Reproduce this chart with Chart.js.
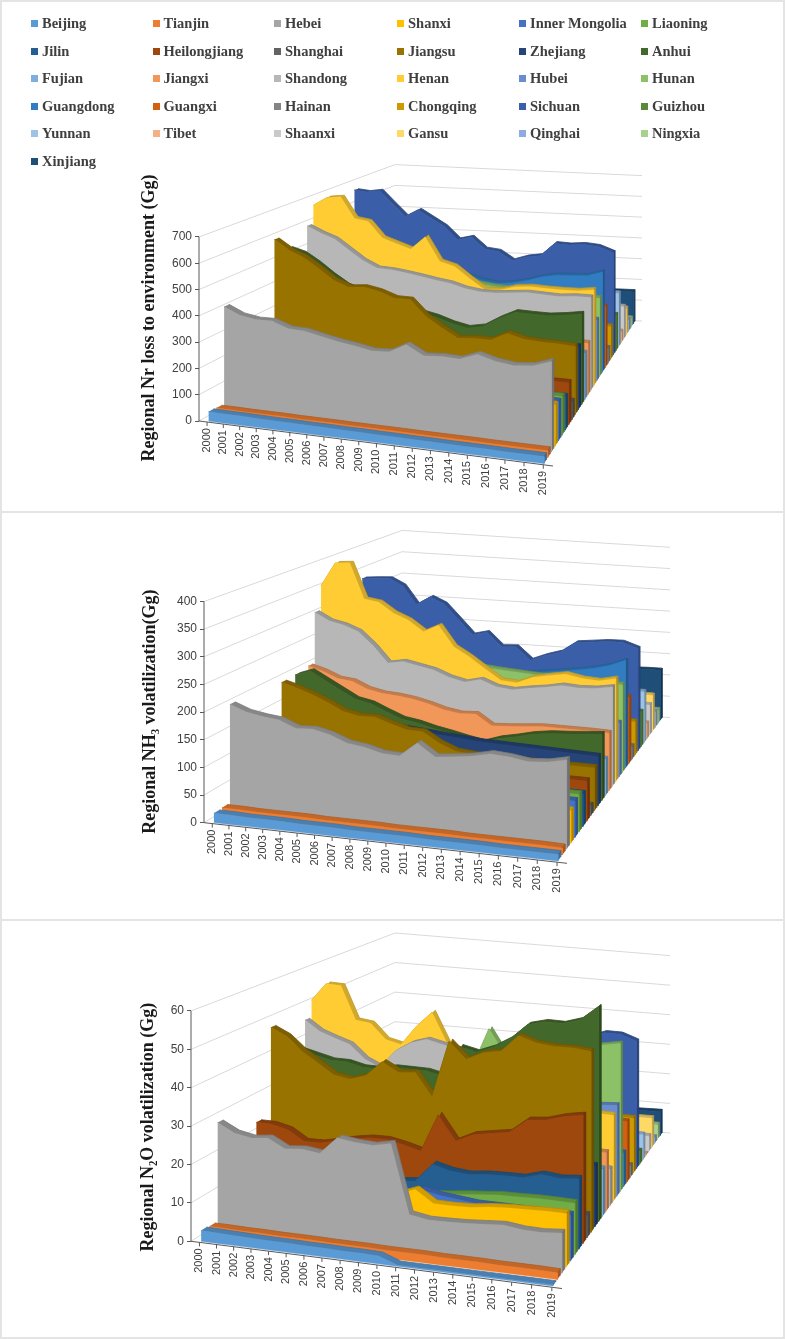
<!DOCTYPE html>
<html>
<head>
<meta charset="utf-8">
<title>Regional Nr loss, NH3 and N2O volatilization</title>
<script src="https://cdn.jsdelivr.net/npm/chart.js@4.4.1/dist/chart.umd.min.js"></script>
<style>
  html, body { margin:0; padding:0; background:#ffffff; }
  #page { position:relative; width:785px; height:1339px; overflow:hidden; background:#fff; }
  #page canvas { position:absolute; left:0; }
  .sep { position:absolute; left:0; width:785px; height:2px; background:#e4e4e4; }
  #frame { position:absolute; left:0; top:0; width:785px; height:1339px; box-sizing:border-box; border:2px solid #e4e4e4; pointer-events:none; }
  #legend { position:absolute; left:0; top:0; width:785px; height:175px; font-family:"Liberation Serif","Times New Roman",serif; font-weight:bold; font-size:14.5px; color:#3f3f3f; }
  .lg { position:absolute; height:16px; line-height:16px; white-space:nowrap; }
  .lg i { position:absolute; left:0; top:4.5px; width:7px; height:7px; }
  .lg span { position:absolute; left:11px; top:0; }
</style>
</head>
<body>
<div id="page">
  <canvas id="c1" width="785" height="511" style="top:0px"></canvas>
  <div class="sep" style="top:511px"></div>
  <canvas id="c2" width="785" height="406" style="top:513px"></canvas>
  <div class="sep" style="top:919px"></div>
  <canvas id="c3" width="785" height="418" style="top:921px"></canvas>
  <div id="legend"></div>
  <div id="frame"></div>
</div>
<script>
// ---------------- DATA ----------------
const years = ['2000','2001','2002','2003','2004','2005','2006','2007','2008','2009','2010','2011','2012','2013','2014','2015','2016','2017','2018','2019'];
const provinces = ['Beijing','Tianjin','Hebei','Shanxi','Inner Mongolia','Liaoning','Jilin','Heilongjiang','Shanghai','Jiangsu','Zhejiang','Anhui','Fujian','Jiangxi','Shandong','Henan','Hubei','Hunan','Guangdong','Guangxi','Hainan','Chongqing','Sichuan','Guizhou','Yunnan','Tibet','Shaanxi','Gansu','Qinghai','Ningxia','Xinjiang'];
const seriesColors = ['#5B9BD5','#ED7D31','#A5A5A5','#FFC000','#4472C4','#70AD47','#255E91','#9E480E','#636363','#997300','#264478','#43682B','#7CAFDD','#F1975A','#B7B7B7','#FFCD33','#698ED0','#8CC168','#327DC2','#D26012','#848484','#CC9A00','#3A5FA8','#5A8A39','#9DC3E6','#F4B183','#C9C9C9','#FFD966','#8FAADC','#A9D18E','#1F4E79'];
const nrTicks = [0,100,200,300,400,500,600,700];
const nh3Ticks = [0,50,100,150,200,250,300,350,400];
const n2oTicks = [0,10,20,30,40,50,60];

// Regional Nr loss to environment (Gg)
const nrBeijing = [36,35,35,34,33,33,32,32,31,31,30,30,29,29,28,28,28,27,27,27];
const nrTianjin = [33,33,32,32,32,31,31,31,30,30,30,30,29,29,29,29,28,28,28,28];
const nrHebei = [409,383,374,376,355,353,340,328,319,308,312,348,313,319,317,344,326,318,326,351];
const nrShanxi = [180,178,176,174,172,170,168,166,165,164,163,162,161,160,160,160,161,162,163,163];
const nrInnerMongolia = [150,152,154,156,158,160,160,160,158,157,156,155,155,155,155,155,155,155,155,155];
const nrLiaoning = [165,164,163,162,161,160,160,159,158,158,157,157,156,156,156,155,155,155,155,155];
const nrJilin = [140,140,139,139,138,138,137,137,136,136,136,135,135,135,135,134,134,134,134,134];
const nrHeilongjiang = [150,152,154,156,158,160,162,163,164,165,166,167,168,168,169,169,170,170,170,170];
const nrShanghai = [80,79,78,78,77,77,76,76,75,75,75,75,74,74,74,74,74,74,74,74];
const nrJiangsu = [589,552,529,491,449,426,433,422,401,401,339,299,264,271,271,305,288,284,284,281];
const nrZhejiang = [300,295,290,285,280,275,270,265,260,255,250,245,240,240,242,245,248,252,256,260];
const nrAnhui = [530,515,480,437,400,380,370,360,345,318,305,285,272,285,325,358,357,357,366,378];
const nrFujian = [210,209,208,207,206,205,204,203,202,201,200,199,198,197,197,196,196,196,196,196];
const nrJiangxi = [250,248,246,244,242,240,238,236,234,232,230,228,226,225,224,223,222,221,220,219];
const nrShandong = [590,565,545,505,465,438,436,429,420,410,402,385,377,378,385,392,390,388,395,396];
const nrHenan = [668,706,715,628,620,555,536,517,575,476,460,414,372,375,395,402,400,400,402,412];
const nrHubei = [300,298,296,294,292,290,288,286,284,282,280,278,276,274,272,270,268,267,266,265];
const nrHunan = [400,400,395,390,385,380,378,375,372,370,368,362,355,352,350,350,348,346,345,342];
const nrGuangdong = [430,430,425,420,415,410,405,400,395,385,375,360,352,360,375,397,410,414,418,440];
const nrGuangxi = [300,298,296,294,292,290,288,286,284,282,280,279,278,277,276,275,274,273,272,271];
const nrHainan = [60,60,61,61,62,62,63,63,64,64,65,65,66,66,67,67,68,68,68,68];
const nrChongqing = [170,168,166,164,162,160,158,156,155,154,153,152,151,150,149,149,148,148,147,147];
const nrSichuan = [665,660,670,615,561,595,562,528,473,489,439,433,395,416,427,486,484,491,486,463];
const nrGuizhou = [180,178,176,175,174,173,172,171,170,169,168,168,167,166,166,165,165,164,164,164];
const nrYunnan = [260,258,256,255,254,253,252,251,250,250,249,249,248,248,248,247,247,247,246,246];
const nrTibet = [45,45,46,46,47,47,48,48,49,49,50,50,50,51,51,51,52,52,52,52];
const nrShaanxi = [170,168,166,164,162,160,158,157,156,155,154,153,152,152,151,151,150,150,150,150];
const nrGansu = [130,130,129,129,128,128,128,127,127,127,126,126,126,126,125,125,125,125,125,125];
const nrQinghai = [48,48,49,49,50,50,50,51,51,51,52,52,52,52,53,53,53,53,53,53];
const nrNingxia = [38,38,39,39,40,40,40,41,41,41,42,42,42,42,43,43,43,43,43,43];
const nrXinjiang = [120,122,124,126,128,130,132,134,136,138,140,142,144,146,148,149,150,151,152,152];

// Regional NH3 volatilization (Gg)
const nh3Beijing = [17,17,16,16,16,15,15,15,14,14,14,14,13,13,13,13,12,12,12,12];
const nh3Tianjin = [18,18,17,17,17,17,16,16,16,16,15,15,15,15,14,14,14,14,14,13];
const nh3Hebei = [200,189,184,181,169,171,164,152,148,140,139,166,144,148,153,161,159,154,157,165];
const nh3Shanxi = [70,70,69,69,68,68,67,67,66,66,65,65,64,64,63,63,62,62,61,61];
const nh3InnerMongolia = [60,61,62,63,64,65,66,67,68,68,69,69,69,69,69,69,69,69,69,69];
const nh3Liaoning = [80,80,79,79,78,78,77,77,76,76,75,75,74,74,73,73,73,73,72,72];
const nh3Jilin = [60,60,61,61,61,62,62,62,62,63,63,63,63,63,63,63,63,63,63,63];
const nh3Heilongjiang = [75,76,77,78,79,80,81,82,82,82,82,81,80,80,79,79,78,78,78,78];
const nh3Shanghai = [28,28,27,27,26,26,25,25,24,24,23,23,22,22,22,21,21,21,20,20];
const nh3Jiangsu = [193,185,175,163,148,142,143,133,124,123,104,91,88,85,84,86,85,85,85,85];
const nh3Zhejiang = [135,132,130,128,125,122,120,118,116,113,110,108,105,104,103,102,101,100,99,98];
const nh3Anhui = [194,205,189,173,157,151,138,126,121,113,107,100,94,105,112,120,125,127,130,133];
const nh3Fujian = [90,89,88,87,86,85,84,83,82,81,80,79,78,77,76,76,75,75,74,74];
const nh3Jiangxi = [199,191,179,176,163,157,155,151,144,135,130,132,111,113,116,119,119,119,119,118];
const nh3Shandong = [303,288,282,271,245,212,218,212,206,194,187,195,183,180,186,191,198,196,198,204];
const nh3Henan = [352,402,405,333,329,309,297,276,292,250,232,210,189,187,201,208,214,208,206,214];
const nh3Hubei = [150,148,146,144,142,140,138,135,132,130,128,125,122,120,118,117,116,115,114,113];
const nh3Hunan = [240,238,235,232,228,222,218,212,207,202,199,196,194,192,190,189,188,187,186,185];
const nh3Guangdong = [230,228,225,222,218,215,210,205,200,195,190,185,182,185,190,195,200,206,215,229];
const nh3Guangxi = [160,158,156,155,154,153,152,151,150,149,148,147,146,146,145,145,144,144,144,143];
const nh3Hainan = [25,25,26,26,26,27,27,27,27,28,28,28,28,28,28,28,28,28,28,28];
const nh3Chongqing = [85,84,83,82,81,80,79,78,77,76,76,75,75,74,74,74,73,73,73,73];
const nh3Sichuan = [332,335,337,323,284,303,290,259,227,235,206,208,181,194,204,227,231,235,236,225];
const nh3Guizhou = [85,85,84,84,83,83,82,82,81,81,80,80,80,79,79,79,78,78,78,78];
const nh3Yunnan = [110,110,111,111,112,112,112,113,113,113,113,114,114,114,114,114,114,114,114,114];
const nh3Tibet = [30,30,31,31,31,32,32,32,33,33,33,34,34,34,34,35,35,35,35,35];
const nh3Shaanxi = [80,79,78,77,76,75,74,73,72,72,71,71,70,70,69,69,69,68,68,68];
const nh3Gansu = [75,75,76,76,77,77,78,78,79,79,80,80,80,81,81,81,82,82,82,82];
const nh3Qinghai = [30,30,31,31,32,32,33,33,33,34,34,34,35,35,35,35,36,36,36,36];
const nh3Ningxia = [26,26,27,27,28,28,29,29,29,30,30,30,31,31,31,31,32,32,32,32];
const nh3Xinjiang = [90,92,94,96,98,100,102,104,106,108,109,110,111,112,113,114,115,115,116,116];

// Regional N2O volatilization (Gg)
const n2oBeijing = [2.8,2.7,2.6,2.5,2.4,2.4,2.3,2.3,2.2,2.2,2.1,0.3,0.3,0.3,0.3,0.3,0.3,0.3,0.3,0.3];
const n2oTianjin = [2.5,2.5,2.4,2.4,2.3,2.3,2.3,2.2,2.2,2.2,2.1,2.1,2.1,2.0,2.0,2.0,1.9,1.9,1.9,1.8];
const n2oHebei = [28.7,26.5,25.7,26.3,24.0,24.5,23.9,28.6,28.0,27.8,28.9,10.6,9.8,9.9,10.1,10.5,10.9,10.3,10.2,10.7];
const n2oShanxi = [12,12,12.5,12.5,13,13,13,13.5,13.5,13.5,14,15.9,12.7,12.7,12.9,13.6,14,14.2,14.4,14.4];
const n2oInnerMongolia = [11,11,11,11,11,11,11,11.5,11.5,11.5,12,14.5,13.5,13,12.5,12.5,12.5,12.5,12.5,12.5];
const n2oLiaoning = [10,10,10,10,10,10,10,10,10,10,10.5,12,12.4,13,13.5,14,14.1,14.3,14.3,14.2];
const n2oJilin = [14,14,14,13,13,13,13,13,13,13,13.5,18.7,17.5,17.1,17.7,17.9,18,19.5,19,19.5];
const n2oHeilongjiang = [23.1,23.1,22.1,19.4,19.5,20.6,21.7,22.5,22.6,21.7,20.5,31.1,24.4,26.8,27.7,28.6,32.6,33.2,34.8,35.8];
const n2oShanghai = [8,8,7.8,7.6,7.4,7.2,7,7,6.9,6.8,6.7,6.6,6.6,6.5,6.5,6.5,6.4,6.4,6.4,6.4];
const n2oJiangsu = [47.8,45.8,42.1,39.3,36.4,35.7,37.2,41.6,39.2,39.7,33.4,49.6,45.1,47.5,48.5,53.5,52,51.6,51.8,51.4];
const n2oZhejiang = [20,20,19.8,19.6,19.4,19.2,19,18.8,18.6,18.4,18.2,18,17.9,17.8,17.7,17.6,17.6,17.5,17.5,17.5];
const n2oAnhui = [40,40,39,38,38,37,37,38,38,38,37,46,45,47,50,54.6,56,56,57.7,62];
const n2oFujian = [14,14,14,14,14,14,14,14,14,14,14,14,14,14,14,13.9,13.9,13.8,13.8,13.8];
const n2oJiangxi = [18,18,17.8,17.7,17.6,17.5,17.5,17.4,17.4,17.3,17.3,17.3,17.2,17.2,17.2,17.2,17.2,17.2,17.2,17.2];
const n2oShandong = [45.5,42.6,41.1,39.7,35.8,33.8,39.2,42.1,43.6,42.6,41.7,12,11.8,11.6,11.5,11.4,11.3,11.2,11.1,11];
const n2oHenan = [50.5,55.9,55.8,46,45.5,41.1,40.1,46,50.7,41.6,35,30,28,27,27,26.5,26,26,25.8,25.7];
const n2oHubei = [22,22,22.5,22.5,23,23,23.5,23.5,24,24,24.5,25,25.5,26,26,26.5,26.5,27,27,27.4];
const n2oHunan = [38,38,37,37,36,36,36,37,37,38,34,45.3,38,40,41,41,42,43,44,45];
const n2oGuangdong = [10,10,10,10,10,10,10,10,10,10,10,10.2,10.2,10.3,10.3,10.3,10.4,10.4,10.4,10.4];
const n2oGuangxi = [17,17,17,17.2,17.4,17.6,17.8,18,18,18.2,18.4,18.5,18.5,18.6,18.6,18.6,18.7,18.7,18.7,18.7];
const n2oHainan = [3,3,3.1,3.1,3.2,3.2,3.3,3.3,3.4,3.4,3.5,3.5,3.5,3.6,3.6,3.6,3.7,3.7,3.7,3.7];
const n2oChongqing = [15,15,15.2,15.4,15.6,15.8,16,16.2,16.4,16.6,16.8,17,17,17.1,17.1,17.1,17.2,17.2,17.2,17.2];
const n2oSichuan = [28,28,28,28,29,29,29,30,31,32,33,35,36,37,38,39,40,42,42,40.3];
const n2oGuizhou = [5,5,4.9,4.8,4.7,4.6,4.5,4.4,4.4,4.3,4.3,4.3,4.2,4.2,4.2,4.2,4.2,4.2,4.2,4.2];
const n2oYunnan = [7,7,7.1,7.2,7.3,7.4,7.5,7.6,7.7,7.8,7.9,8,8,8,8.1,8.1,8.1,8.1,8.1,8.1];
const n2oTibet = [0.5,0.5,0.5,0.5,0.5,0.5,0.5,0.5,0.5,0.5,0.5,0.5,0.5,0.5,0.5,0.5,0.5,0.5,0.5,0.5];
const n2oShaanxi = [5.5,5.5,5.4,5.4,5.3,5.3,5.2,5.2,5.1,5.1,5.1,5,5,5,5,5,5,5,5,5];
const n2oGansu = [8,8,8.2,8.3,8.4,8.5,8.6,8.7,8.8,8.9,9,9.1,9.2,9.3,9.4,9.4,9.5,9.5,9.6,9.6];
const n2oQinghai = [1.8,1.8,1.8,1.9,1.9,1.9,1.9,2,2,2,2,2,2,2,2,2,2,2,2,2];
const n2oNingxia = [4,4,4.1,4.2,4.3,4.4,4.5,4.5,4.6,4.6,4.7,4.7,4.8,4.8,4.8,4.9,4.9,4.9,4.9,4.9];
const n2oXinjiang = [6,6.1,6.2,6.3,6.4,6.5,6.6,6.7,6.8,6.9,7,7.1,7.2,7.3,7.4,7.5,7.6,7.8,7.9,8];

const nrSeries = [nrBeijing,nrTianjin,nrHebei,nrShanxi,nrInnerMongolia,nrLiaoning,nrJilin,nrHeilongjiang,nrShanghai,nrJiangsu,nrZhejiang,nrAnhui,nrFujian,nrJiangxi,nrShandong,nrHenan,nrHubei,nrHunan,nrGuangdong,nrGuangxi,nrHainan,nrChongqing,nrSichuan,nrGuizhou,nrYunnan,nrTibet,nrShaanxi,nrGansu,nrQinghai,nrNingxia,nrXinjiang];
const nh3Series = [nh3Beijing,nh3Tianjin,nh3Hebei,nh3Shanxi,nh3InnerMongolia,nh3Liaoning,nh3Jilin,nh3Heilongjiang,nh3Shanghai,nh3Jiangsu,nh3Zhejiang,nh3Anhui,nh3Fujian,nh3Jiangxi,nh3Shandong,nh3Henan,nh3Hubei,nh3Hunan,nh3Guangdong,nh3Guangxi,nh3Hainan,nh3Chongqing,nh3Sichuan,nh3Guizhou,nh3Yunnan,nh3Tibet,nh3Shaanxi,nh3Gansu,nh3Qinghai,nh3Ningxia,nh3Xinjiang];
const n2oSeries = [n2oBeijing,n2oTianjin,n2oHebei,n2oShanxi,n2oInnerMongolia,n2oLiaoning,n2oJilin,n2oHeilongjiang,n2oShanghai,n2oJiangsu,n2oZhejiang,n2oAnhui,n2oFujian,n2oJiangxi,n2oShandong,n2oHenan,n2oHubei,n2oHunan,n2oGuangdong,n2oGuangxi,n2oHainan,n2oChongqing,n2oSichuan,n2oGuizhou,n2oYunnan,n2oTibet,n2oShaanxi,n2oGansu,n2oQinghai,n2oNingxia,n2oXinjiang];

// ---------------- LAYOUT / 3D FRAME ----------------
const KX = 17.7; // horizontal data unit (front year spacing)
const panels = [
  { id:'c1', canvasTop:0, canvasH:511, title:'Regional Nr loss to environment (Gg)', series:nrSeries, ticks:nrTicks,
    geo:{FL:[199,421], FR:[553,466], BL:[395,310], BR:[642,321], kF:0.2629, R:0.79, q:1.1},
    area:{top:152, bottom:484, right:745}, titleX:149 },
  { id:'c2', canvasTop:513, canvasH:406, title:'Regional NH\u2083 volatilization(Gg)', series:nh3Series, ticks:nh3Ticks,
    geo:{FL:[204,822], FR:[567,863], BL:[402,699], BR:[670,716], kF:0.5575, R:0.77, q:1.1},
    area:{top:520, bottom:900, right:745}, titleX:150 },
  { id:'c3', canvasTop:921, canvasH:418, title:'Regional N\u2082O volatilization (Gg)', series:n2oSeries, ticks:n2oTicks,
    geo:{FL:[191,1240], FR:[562,1288], BL:[395,1107], BR:[670,1130], kF:3.9, R:0.77, q:1.1},
    area:{top:925, bottom:1323, right:745}, titleX:148 }
];

function lerp(a,b,t){ return a+(b-a)*t; }
function makeProjector(g){
  // i: year index (-0.5..19.5), t: depth 0 (front) .. 1 (back), v: value
  return function(i,t,v){
    const u=(i+0.5)/20;
    const up=u/(u+g.q*(1-u));
    const tp=t/(t+g.R*(1-t));
    const fx=lerp(lerp(g.FL[0],g.FR[0],up),lerp(g.BL[0],g.BR[0],up),tp);
    const fy=lerp(lerp(g.FL[1],g.FR[1],up),lerp(g.BL[1],g.BR[1],up),tp);
    const k=g.kF*(1-(1-g.R)*tp);
    return { x:(fx-g.FL[0])/KX-0.5, y:(g.FL[1]-(fy-v*k))/g.kF };
  };
}
function shade(hex,f){
  const n=parseInt(hex.slice(1),16);
  const r=Math.round(((n>>16)&255)*f), g=Math.round(((n>>8)&255)*f), b=Math.round((n&255)*f);
  return 'rgb('+r+','+g+','+b+')';
}

function buildDatasets(p, proj){
  const ds=[];
  const N=provinces.length;
  for(let s=0;s<N;s++){
    const vals=p.series[s];
    const tf=(s+0.2)/N, tb=(s+0.85)/N;
    const frontTop=[], baseRev=[], backTopRev=[];
    for(let i=0;i<years.length;i++) frontTop.push(proj(i,tf,vals[i]));
    for(let i=years.length-1;i>=0;i--){ baseRev.push(proj(i,tf,0)); backTopRev.push(proj(i,tb,vals[i])); }
    const last=years.length-1;
    const side=[proj(last,tf,0),proj(last,tf,vals[last]),proj(last,tb,vals[last]),proj(last,tb,0)];
    const c=seriesColors[s];
    const common={type:'line', parsing:false, fill:'shape', pointRadius:0, pointHoverRadius:0, tension:0, spanGaps:true};
    ds.push(Object.assign({label:provinces[s], data:frontTop.concat(baseRev), backgroundColor:c, borderColor:c, borderWidth:0.5}, common));
    ds.push(Object.assign({label:provinces[s]+' (end)', data:side, backgroundColor:shade(c,0.7), borderColor:shade(c,0.7), borderWidth:0.5}, common));
    ds.push(Object.assign({label:provinces[s]+' (top)', data:frontTop.concat(backTopRev), backgroundColor:shade(c,0.82), borderColor:shade(c,0.74), borderWidth:0.8}, common));
  }
  return ds;
}

function decorPlugin(p, proj){
  return {
    id:'decor_'+p.id,
    beforeDatasetsDraw(chart){
      const ctx=chart.ctx, xs=chart.scales.x, ys=chart.scales.y;
      const P=(i,t,v)=>{ const d=proj(i,t,v); return [xs.getPixelForValue(d.x), ys.getPixelForValue(d.y)]; };
      ctx.save();
      ctx.strokeStyle='#d9d9d9'; ctx.lineWidth=1;
      for(const v of p.ticks){
        const a=P(-0.5,0,v), b=P(-0.5,1,v), c=P(19.5,1,v);
        ctx.beginPath(); ctx.moveTo(a[0],a[1]); ctx.lineTo(b[0],b[1]); ctx.lineTo(c[0],c[1]); ctx.stroke();
      }
      ctx.restore();
    },
    afterDatasetsDraw(chart){
      const ctx=chart.ctx, xs=chart.scales.x, ys=chart.scales.y;
      const P=(i,t,v)=>{ const d=proj(i,t,v); return [xs.getPixelForValue(d.x), ys.getPixelForValue(d.y)]; };
      ctx.save();
      ctx.strokeStyle='#595959'; ctx.lineWidth=1;
      const top=p.ticks[p.ticks.length-1];
      let a=P(-0.5,0,0), b=P(-0.5,0,top);
      ctx.beginPath(); ctx.moveTo(a[0],a[1]); ctx.lineTo(b[0],b[1]); ctx.stroke();
      a=P(-0.5,0,0); b=P(19.5,0,0);
      ctx.beginPath(); ctx.moveTo(a[0],a[1]); ctx.lineTo(b[0],b[1]); ctx.stroke();
      ctx.fillStyle='#404040';
      ctx.font='11px "Liberation Sans", Arial, sans-serif';
      ctx.textAlign='right'; ctx.textBaseline='middle';
      for(let i=0;i<years.length;i++){
        const q=P(i,0,0);
        ctx.beginPath(); ctx.moveTo(q[0],q[1]); ctx.lineTo(q[0],q[1]+4); ctx.stroke();
        ctx.save(); ctx.translate(q[0],q[1]+6); ctx.rotate(-Math.PI/2); ctx.fillText(years[i],0,0); ctx.restore();
      }
      ctx.restore();
    }
  };
}

Chart.defaults.font.family='"Liberation Sans", Arial, sans-serif';

for(const p of panels){
  const g=p.geo;
  const proj=makeProjector(g);
  const cfg={
    type:'line',
    data:{ datasets: buildDatasets(p, proj) },
    options:{
      responsive:false, animation:false, events:[],
      layout:{ padding:{ left:0, right:785-p.area.right, top:p.area.top-p.canvasTop, bottom:p.canvasTop+p.canvasH-p.area.bottom } },
      plugins:{ legend:{display:false}, tooltip:{enabled:false}, title:{display:false} },
      scales:{
        x:{ type:'linear', display:false, bounds:'data', min:-0.5, max:(p.area.right-g.FL[0])/KX-0.5 },
        y:{ type:'linear', position:'left', bounds:'data',
            min:(g.FL[1]-p.area.bottom)/g.kF, max:(g.FL[1]-p.area.top)/g.kF,
            afterBuildTicks:(sc)=>{ sc.ticks=p.ticks.map(v=>({value:v})); },
            afterFit:(sc)=>{ sc.width=g.FL[0]; },
            ticks:{ font:{ family:'"Liberation Sans", Arial, sans-serif', size:12 }, color:'#404040', padding:3, autoSkip:false },
            grid:{ drawOnChartArea:false, drawTicks:true, tickLength:4, color:'#595959' },
            border:{ display:false },
            title:{ display:true, text:p.title, color:'#1a1a1a',
                    font:{ family:'"Liberation Serif", "Times New Roman", serif', size:18, weight:'bold', lineHeight:1.2 },
                    padding:{ top:p.titleX-10.8, bottom:0 } }
        }
      }
    },
    plugins:[decorPlugin(p, proj)]
  };
  new Chart(document.getElementById(p.id), cfg);
}

// ---------------- LEGEND ----------------
const legendColX = [31, 152.5, 274, 397, 519, 641];
const legendRowY = [23.3, 51, 78.3, 106, 133.3, 161];
const legendEl = document.getElementById('legend');
provinces.forEach((name,k)=>{
  const d=document.createElement('div');
  d.className='lg';
  d.style.left=legendColX[k%6]+'px';
  d.style.top=(legendRowY[Math.floor(k/6)]-8)+'px';
  const sw=document.createElement('i'); sw.style.background=seriesColors[k];
  const tx=document.createElement('span'); tx.textContent=name;
  d.appendChild(sw); d.appendChild(tx);
  legendEl.appendChild(d);
});
</script>
</body>
</html>
